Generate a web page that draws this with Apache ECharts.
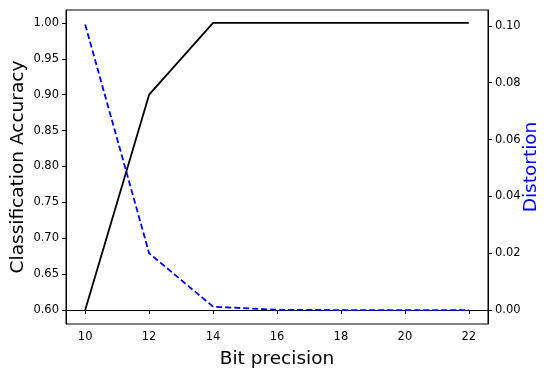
<!DOCTYPE html>
<html><head><meta charset="utf-8">
<script src="https://cdn.jsdelivr.net/npm/echarts@6/dist/echarts.min.js"></script>
<style>html,body{margin:0;padding:0;background:#fff}#c{width:550px;height:374px}</style>
</head><body><div id="c"></div>
<script>
const bits = [10, 12, 14, 16, 18, 20, 22];
const accuracy = [0.60, 0.90, 1.00, 1.00, 1.00, 1.00, 1.00];
const distortion = [0.1005, 0.0200, 0.0012, 0.0001, 0.0000, 0.0000, 0.0000];
const xTicks = [10, 12, 14, 16, 18, 20, 22];
const accTicks = [0.60, 0.65, 0.70, 0.75, 0.80, 0.85, 0.90, 0.95, 1.00];
const distTicks = [0.00, 0.02, 0.04, 0.06, 0.08, 0.10];

const font = 'DejaVu Sans';
const chart = echarts.init(document.getElementById('c'), null, {renderer: 'canvas'});
const axisCommon = {
  axisLine: {show: true, lineStyle: {color: '#000', width: 1}},
  splitLine: {show: false},
  nameMoveOverlap: false
};
chart.setOption({
  animation: false,
  grid: {left: 66, right: 62, top: 10, bottom: 50, containLabel: false, outerBoundsMode: 'none', show: true, borderColor: '#000', borderWidth: 1, backgroundColor: 'transparent'},
  xAxis: Object.assign({}, axisCommon, {
    type: 'value', min: 9.4, max: 22.6,
    name: 'Bit precision', nameLocation: 'middle', nameGap: 26,
    nameTextStyle: {fontFamily: font, fontSize: 18.5, color: '#000'},
    axisTick: {show: true, length: 4, lineStyle: {color: '#000'}, customValues: xTicks},
    axisLabel: {customValues: xTicks, fontFamily: font, fontSize: 11.5, color: '#000', margin: 7, formatter: v => String(v)}
  }),
  yAxis: [
    Object.assign({}, axisCommon, {
      type: 'value', position: 'left', min: 0.5805, max: 1.018,
      name: 'Classification Accuracy', nameLocation: 'middle', nameGap: 38,
      nameTextStyle: {fontFamily: font, fontSize: 18.5, color: '#000'},
      axisTick: {show: true, length: 4, lineStyle: {color: '#000'}, customValues: accTicks},
      axisLabel: {customValues: accTicks, fontFamily: font, fontSize: 11.5, color: '#000', margin: 7, formatter: v => v.toFixed(2)}
    }),
    Object.assign({}, axisCommon, {
      type: 'value', position: 'right', min: -0.0049, max: 0.1056,
      name: 'Distortion', nameLocation: 'middle', nameGap: 34,
      nameTextStyle: {fontFamily: font, fontSize: 18.5, color: '#0000ff'},
      axisTick: {show: true, length: 4, lineStyle: {color: '#000'}, customValues: distTicks},
      axisLabel: {customValues: distTicks, fontFamily: font, fontSize: 11.5, color: '#000', margin: 7, formatter: v => v.toFixed(2)}
    })
  ],
  series: [
    {type: 'line', yAxisIndex: 0, data: bits.map((b, i) => [b, accuracy[i]]), showSymbol: false, lineStyle: {color: '#000', width: 1.8}, z: 3},
    {type: 'line', yAxisIndex: 1, data: bits.map((b, i) => [b, distortion[i]]), showSymbol: false, lineStyle: {color: '#0000ff', width: 1.8, type: [6, 3]}, z: 2}
  ]
});
</script></body></html>
